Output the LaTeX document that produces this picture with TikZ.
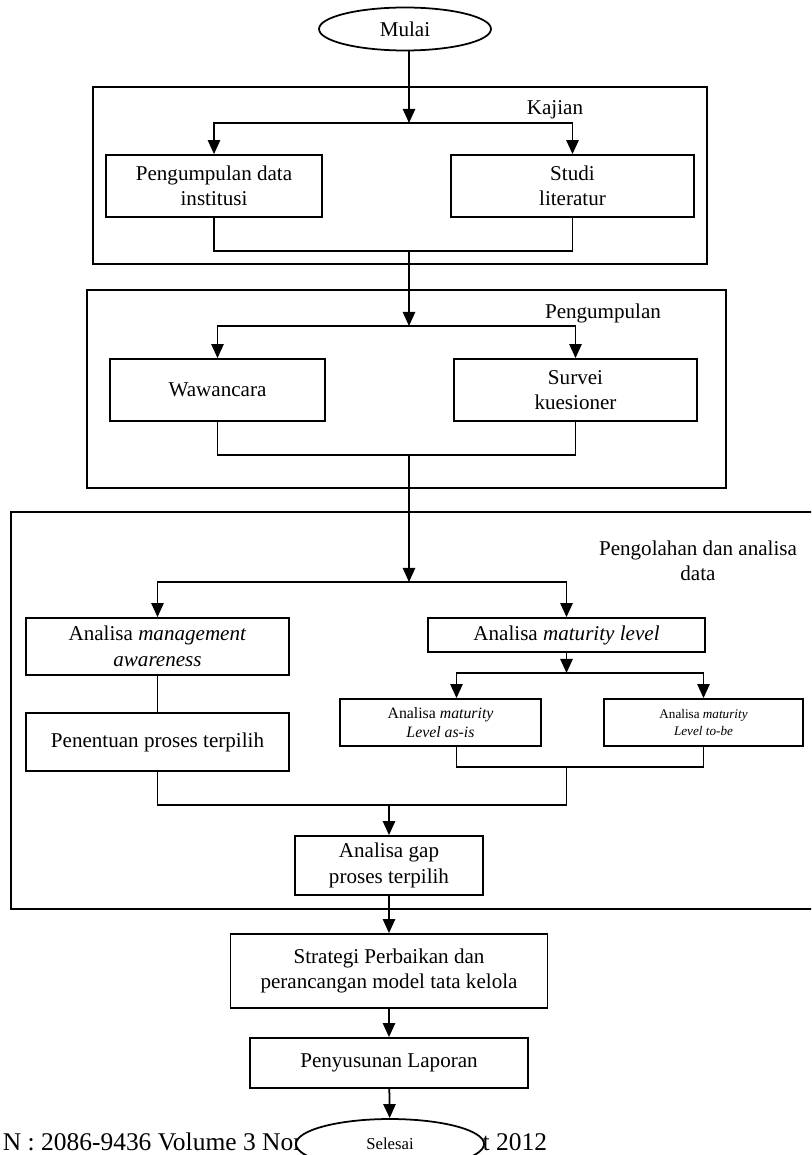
\documentclass[tikz,border=0pt]{standalone}
\usepackage{fontspec}
\setmainfont{Liberation Serif}
\usetikzlibrary{arrows.meta,shapes.geometric}

\begin{document}
\begin{tikzpicture}[x=0.02cm,y=-0.02cm,line width=1pt,
  kotak/.style={draw,rectangle,inner sep=0pt,align=center,font=\fontsize{12}{14.5}\selectfont},
  oval/.style={draw,ellipse,inner sep=0pt,fill=white},
  judul/.style={inner sep=0pt,align=center,font=\fontsize{12}{14.5}\selectfont},
  kaki/.style={inner sep=0pt,font=\fontsize{14.5}{17}\selectfont},
  panah/.style={-{Triangle[length=8pt,width=7pt]}}]
\useasboundingbox (0,0) rectangle (811,1155);
\clip (0,0) rectangle (811,1155);
\fill[white] (0,0) rectangle (811,1155);

\draw (93,87) rectangle (707,264);
\draw (87,290) rectangle (726,488);
\draw (11,512) rectangle (830,909);

\node[oval,minimum width=3.44cm,minimum height=0.86cm,font=\fontsize{12}{14}\selectfont] (mulai) at (405,29) {Mulai};
\node[judul] (kajian) at (555,110) {Kajian};
\node[kotak,minimum width=4.32cm,minimum height=1.24cm] (data) at (214,186) {Pengumpulan data\\institusi};
\node[kotak,minimum width=4.86cm,minimum height=1.24cm] (studi) at (572.5,186) {Studi\\literatur};

\node[judul] (kumpul) at (603,313) {Pengumpulan};
\node[kotak,minimum width=4.30cm,minimum height=1.24cm] (waw) at (217.5,390) {Wawancara};
\node[kotak,minimum width=4.86cm,minimum height=1.24cm] (survei) at (575.5,390) {Survei\\kuesioner};

\node[judul] (olah) at (698,561) {Pengolahan dan analisa\\data};
\node[kotak,minimum width=5.26cm,minimum height=1.14cm] (mgmt) at (157.5,646.5) {Analisa \textit{management}\\\textit{awareness}};
\node[kotak,minimum width=5.54cm,minimum height=0.68cm] (matlev) at (566.5,635) {Analisa \textit{maturity level}};
\node[kotak,minimum width=4.02cm,minimum height=0.94cm,font=\fontsize{9}{11}\selectfont] (asis) at (440.5,722.5) {Analisa \textit{maturity}\\\textit{Level as-is}};
\node[kotak,minimum width=3.98cm,minimum height=0.94cm,font=\fontsize{7.5}{9.5}\selectfont] (tobe) at (703.5,722.5) {Analisa \textit{maturity}\\\textit{Level to-be}};
\node[kotak,minimum width=5.26cm,minimum height=1.16cm] (pen) at (157.5,742) {Penentuan proses terpilih};
\node[kotak,minimum width=3.76cm,minimum height=1.18cm] (gap) at (389,865.5) {Analisa gap\\proses terpilih};
\node[kotak,minimum width=6.34cm,minimum height=1.48cm] (strat) at (389,971) {Strategi Perbaikan dan\\perancangan model tata kelola};
\node[kotak,minimum width=5.56cm,minimum height=1.00cm] (lap) at (389,1063) {Penyusunan Laporan};

\node[kaki,anchor=base west] (issn) at (2,1150) {N : 2086-9436 Volume 3 Nomor 1};
\node[kaki,anchor=base east] (tahun) at (548,1150) {Maret 2012};
\node[oval,minimum width=3.76cm,minimum height=1.0cm,font=\fontsize{9.5}{11}\selectfont] (selesai) at (390,1144) {Selesai};

\coordinate (kajianin) at (409,123);
\coordinate (kajianout) at (409,251);
\coordinate (kumpulin) at (409,326);
\coordinate (kumpulout) at (409,455);
\coordinate (olahin) at (409,582);
\coordinate (matin) at (566.5,673);
\coordinate (matout) at (566.5,767);
\coordinate (olahout) at (389,805);

\draw[panah] (mulai.south -| kajianin) -- (kajianin);
\draw[panah] (kajianin) -| (data);
\draw[panah] (kajianin) -| (studi);
\draw (data) |- (kajianout) -| (studi);
\draw[panah] (kajianout) -- (kumpulin);
\draw[panah] (kumpulin) -| (waw);
\draw[panah] (kumpulin) -| (survei);
\draw (waw) |- (kumpulout) -| (survei);
\draw[panah] (kumpulout) -- (olahin);
\draw[panah] (olahin) -| (mgmt);
\draw[panah] (olahin) -| (matlev);
\draw[panah] (matlev) -- (matin);
\draw[panah] (matin) -| ([xshift=0.32cm]asis.north);
\draw[panah] (matin) -| (tobe);
\draw ([xshift=0.32cm]asis.south) |- (matout) -| (tobe);
\draw (mgmt) -- (pen);
\draw (pen) |- (olahout) -| (matout);
\draw[panah] (olahout) -- (gap);
\draw[panah] (gap) -- (strat);
\draw[panah] (strat) -- (lap);
\draw[panah] (lap) -- (selesai);

\end{tikzpicture}
\end{document}
